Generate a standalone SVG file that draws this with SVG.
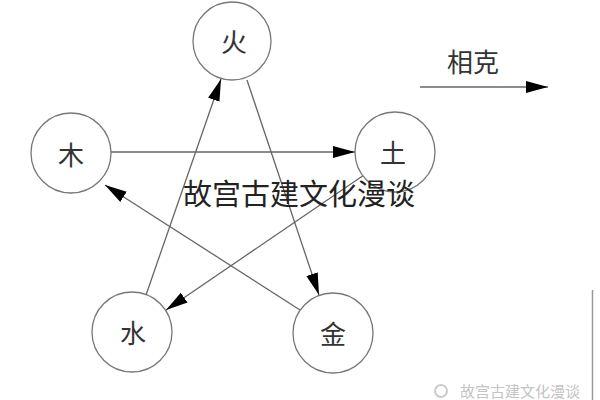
<svg xmlns="http://www.w3.org/2000/svg" width="600" height="400" viewBox="0 0 600 400">
<style>
.node circle{fill:#fff;stroke:#777;stroke-width:1.3}
.node text{font-family:"Noto Sans CJK SC","Noto Sans CJK JP",sans-serif;font-size:26px;fill:#333;text-anchor:middle}
.conn line{stroke:#666;stroke-width:1.3;marker-end:url(#ah)}
.wm{font-family:"Noto Sans CJK SC",sans-serif;text-anchor:middle}
</style>
<defs>
<marker id="ah" markerUnits="userSpaceOnUse" markerWidth="24" markerHeight="14" refX="22" refY="7" orient="auto" viewBox="0 0 24 14">
<path d="M0,1 L22,7 L0,13 Z" fill="#000"/>
</marker>
</defs>
<rect width="600" height="400" fill="#fff"/>
<g class="conn">
<line x1="111" y1="152" x2="355" y2="152"/>
<line x1="364" y1="175" x2="166" y2="310"/>
<line x1="146" y1="295" x2="221" y2="79"/>
<line x1="247" y1="80" x2="319" y2="295"/>
<line x1="300" y1="310" x2="105" y2="185"/>
<line x1="420" y1="87" x2="548" y2="87"/>
</g>
<g id="huo" class="node"><circle cx="232" cy="41" r="39"/><text x="234" y="52">火</text></g>
<g id="mu" class="node"><circle cx="71" cy="153" r="40"/><text x="71" y="165">木</text></g>
<g id="tu" class="node"><circle cx="395" cy="152" r="40"/><text x="393" y="163">土</text></g>
<g id="shui" class="node"><circle cx="132" cy="332" r="40"/><text x="133" y="343">水</text></g>
<g id="jin" class="node"><circle cx="333" cy="333" r="40"/><text x="333" y="344">金</text></g>
<text x="473" y="72" class="wm" font-size="26" fill="#333">相克</text>
<text x="299" y="205" class="wm" font-size="29" fill="#222">故宫古建文化漫谈</text>
<text x="520" y="397" class="wm" font-size="15" fill="#c4c4c4">故宫古建文化漫谈</text>
<circle cx="441" cy="391" r="6" fill="none" stroke="#ccc" stroke-width="2"/>
<line x1="592.5" y1="290" x2="592.5" y2="400" stroke="#999" stroke-width="1.5"/>
</svg>
